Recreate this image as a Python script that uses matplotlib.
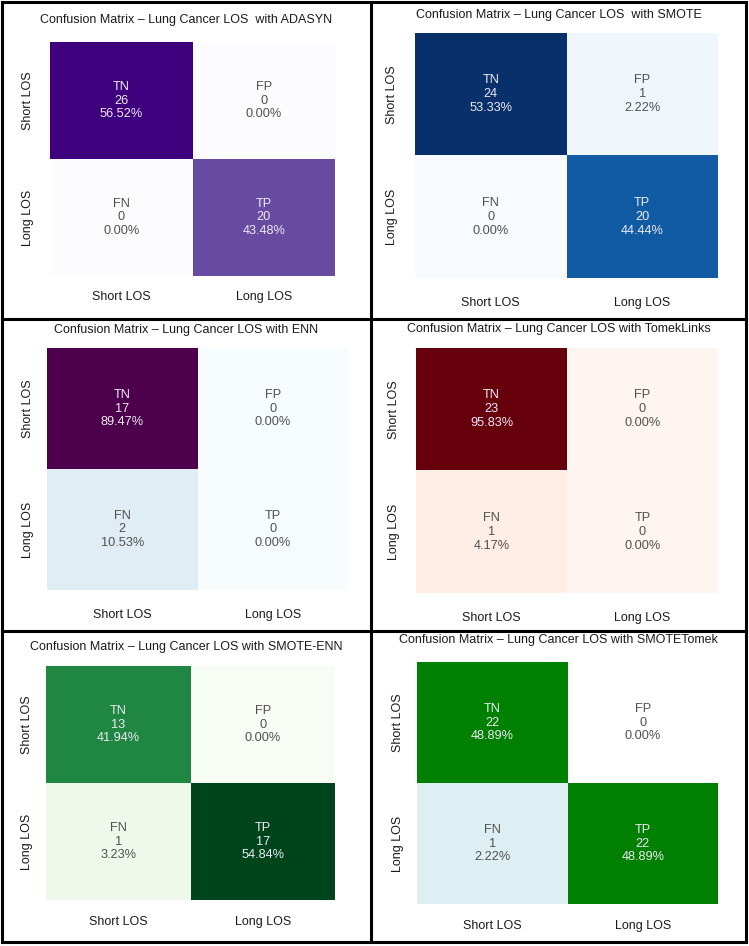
import matplotlib.pyplot as plt
import numpy as np
import seaborn as sns

plt.rcParams['font.family'] = ['Liberation Sans', 'DejaVu Sans']

classes = ['Short LOS', 'Long LOS']
cell_names = [['TN', 'FP'], ['FN', 'TP']]

titles = ['Confusion Matrix \u2013 Lung Cancer LOS  with ADASYN',
          'Confusion Matrix \u2013 Lung Cancer LOS  with SMOTE',
          'Confusion Matrix \u2013 Lung Cancer LOS with ENN',
          'Confusion Matrix \u2013 Lung Cancer LOS with TomekLinks',
          'Confusion Matrix \u2013 Lung Cancer LOS with SMOTE-ENN',
          'Confusion Matrix \u2013 Lung Cancer LOS with SMOTETomek']

adasyn = [[26, 0], [0, 20]]
smote = [[24, 1], [0, 20]]
enn = [[17, 0], [2, 0]]
tomek = [[23, 0], [1, 0]]
smote_enn = [[13, 0], [1, 17]]
smote_tomek = [[22, 0], [1, 22]]
matrices = [adasyn, smote, enn, tomek, smote_enn, smote_tomek]

cmaps = ['Purples', 'Blues', 'BuPu', 'Reds', 'Greens', 'ocean_r']

# layout in pixels (x0, x1, y0, y1) of each heatmap, title y, ytick centre x, xtick centre y
W, H = 749, 946
boxes = [(50, 335, 42, 276), (415, 718, 33, 278),
         (47, 348, 348, 590), (416, 718, 348, 593),
         (46, 335, 666, 900), (417, 718, 662, 904)]
title_y = [20, 15, 330, 329, 647, 640]
ylab_x = [28, 392, 28, 394, 27, 398]
xlab_y = [297, 303, 615, 618, 922, 926]
panel_x = [(2, 371), (371, 746)]

fig = plt.figure(figsize=(W / 100, H / 100), dpi=100)

for i, cm in enumerate(matrices):
    cm = np.array(cm)
    pct = cm / cm.sum() * 100
    labels = np.array([[f'{cell_names[r][c]}\n{cm[r, c]}\n{pct[r, c]:.2f}%'
                        for c in range(2)] for r in range(2)])
    x0, x1, y0, y1 = boxes[i]
    ax = fig.add_axes([x0 / W, 1 - y1 / H, (x1 - x0) / W, (y1 - y0) / H])
    sns.heatmap(cm, annot=labels, fmt='', cmap=cmaps[i], cbar=False,
                vmin=0, ax=ax, annot_kws={'fontsize': 9.2, 'linespacing': 1.2})
    for t in ax.texts:
        if t.get_color() == '.15':
            t.set_color('#505050')
        else:
            t.set_color('#eeeaf4')
    ax.set_xticklabels(classes, fontsize=9, color='#1a1a1a')
    ax.set_yticklabels(classes, fontsize=9, color='#1a1a1a', rotation=90, va='center')
    ax.tick_params(axis='y', length=0, pad=(x0 - ylab_x[i] - 6) * 0.72)
    ax.tick_params(axis='x', length=0, pad=(xlab_y[i] - y1 - 6) * 0.72)
    px0, px1 = panel_x[i % 2]
    fig.text((px0 + px1) / 2 / W, 1 - title_y[i] / H, titles[i],
             ha='center', va='center', fontsize=9, color='#1a1a1a')

# panel borders
lw = 2.2
for yy in [2, 319, 631, 942]:
    fig.add_artist(plt.Line2D([2 / W, 746 / W], [1 - yy / H, 1 - yy / H], color='black', lw=lw))
for xx in [2, 371, 746]:
    fig.add_artist(plt.Line2D([xx / W, xx / W], [1 - 2 / H, 1 - 942 / H], color='black', lw=lw))

fig.savefig('out.png', dpi=100)
